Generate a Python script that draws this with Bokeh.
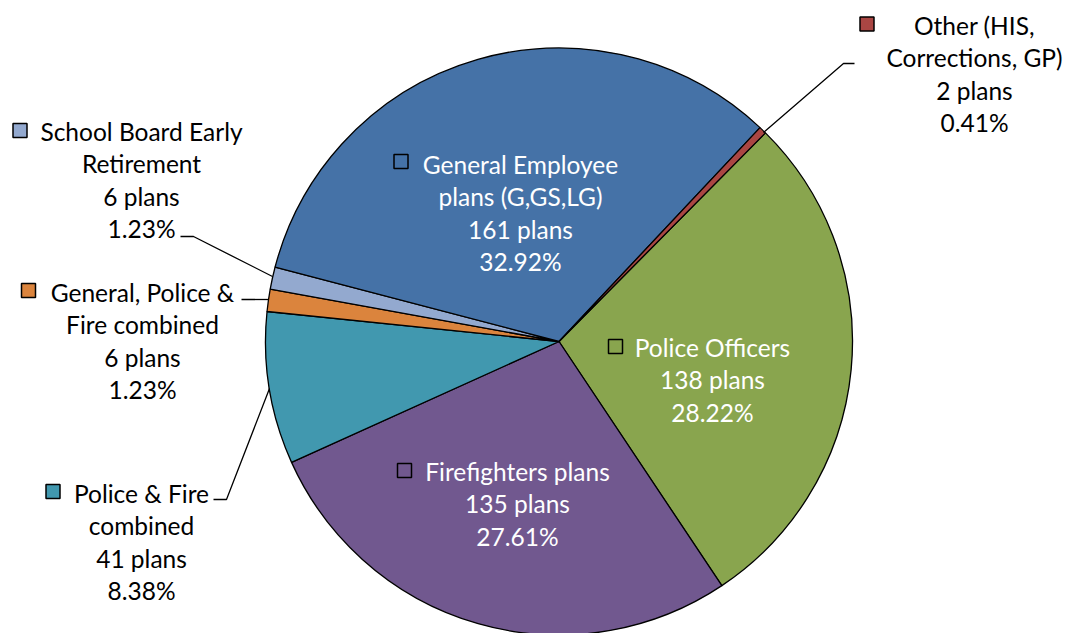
import math
from bokeh.plotting import figure
from bokeh.models import Range1d
from bokeh.core.properties import value
from bokeh.embed import file_html
from bokeh.resources import INLINE

# ---- data (clockwise order, starting from Police Officers) ----
categories = [
    "Police Officers",
    "Firefighters plans",
    "Police & Fire\ncombined",
    "General, Police &\nFire combined",
    "School Board Early\nRetirement",
    "General Employee\nplans (G,GS,LG)",
    "Other (HIS,\nCorrections, GP)",
]
plans = [138, 135, 41, 6, 6, 161, 2]
colors = ["#89A54E", "#71588F", "#4198AF", "#DB843D", "#93A9CF", "#4572A7", "#AA4643"]
label_colors = ["white", "white", "black", "black", "black", "white", "black"]

# ---- layout (window pixel coordinates; y measured downward) ----
W, H = 1067, 633
OFF = 0
CX, CY, R = 558.5, 341.0, 293.5
START_DEG = 45.3
LINE_H = 32.4
FONT = "Lato"
FSIZE = "24.5px"

# label block anchors: (center x of text, y of first line, key center x, key center y)
label_layout = [
    (712, 347, 615, 346),
    (517, 471, 404, 470),
    (141, 493, 52.5, 491),
    (142, 292, 28, 290),
    (141, 131, 19.5, 130),
    (520, 164, 400.5, 161),
    (974, 25, 866.5, 23.5),
]
leaders = [
    None,
    None,
    [(213, 499), (226, 499), (269, 388)],
    [(241, 299), (268, 299)],
    [(180, 236), (193, 236), (272, 276)],
    None,
    [(763, 132), (843, 63), (854, 63)],
]

p = figure(width=W, height=H, output_backend="svg", toolbar_location=None,
           x_range=Range1d(OFF, OFF + W), y_range=Range1d(-(OFF + H), -OFF),
           min_border=0)
p.axis.visible = False
p.grid.visible = False
p.outline_line_color = None
p.background_fill_color = "white"
p.border_fill_color = "white"

total = sum(plans)
ang = math.radians(START_DEG)
starts, ends = [], []
for v in plans:
    sweep = 2 * math.pi * v / total
    ends.append(ang)
    starts.append(ang - sweep)
    ang -= sweep

p.wedge(x=[CX] * len(plans), y=[-CY] * len(plans), radius=R,
        start_angle=starts, end_angle=ends, direction="anticlock",
        fill_color=colors, line_color="black", line_width=1.3)

# leader lines
for pts in leaders:
    if pts:
        p.line([q[0] for q in pts], [-q[1] for q in pts], line_color="black", line_width=1.3)

# labels
for name, n, col, tcol, lay in zip(categories, plans, colors, label_colors, label_layout):
    cx, y0, kx, ky = lay
    lines = name.split("\n") + [f"{n} plans", f"{n / total * 100:.2f}%"]
    ys = [-(y0 + i * LINE_H) for i in range(len(lines))]
    p.text(x=[cx] * len(lines), y=ys, text=lines, text_align="center",
           text_baseline="middle", text_color=tcol,
           text_font=value(FONT), text_font_size=value(FSIZE))
    p.scatter(x=[kx], y=[-ky], marker="square", size=14,
              fill_color=col, line_color="black", line_width=1.5)

open("out.html", "w").write(file_html(p, INLINE))
